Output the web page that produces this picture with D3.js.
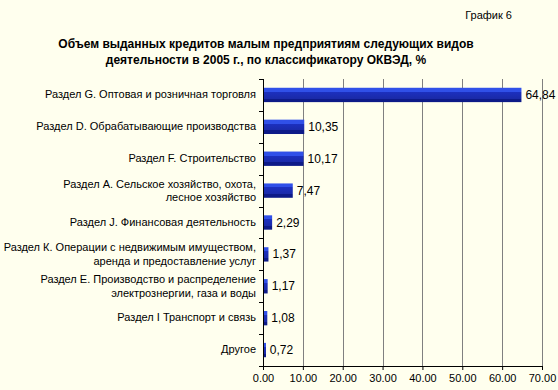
<!DOCTYPE html>
<html>
<head>
<meta charset="utf-8">
<script src="https://cdn.jsdelivr.net/npm/d3@7"></script>
<style>
  body { margin: 0; background: #ffffee; }
  svg { display: block; }
  text { font-family: "Liberation Sans", Arial, sans-serif; fill: #000; }
</style>
</head>
<body>
<svg id="chart" width="558" height="390"></svg>
<script>
var W = 558, H = 390;
var margin = {top: 79, right: 16, bottom: 24, left: 263};

// данные с графика
var categories = [
  ["Раздел G. Оптовая и розничная торговля"],
  ["Раздел D. Обрабатывающие производства"],
  ["Раздел F. Строительство"],
  ["Раздел А. Сельское хозяйство, охота,", "лесное хозяйство"],
  ["Раздел J. Финансовая деятельность"],
  ["Раздел К. Операции с недвижимым имуществом,", "аренда и предоставление услуг"],
  ["Раздел Е. Производство и распределение", "электрознергии, газа и воды"],
  ["Раздел I Транспорт и связь"],
  ["Другое"]
];
var values = [64.84, 10.35, 10.17, 7.47, 2.29, 1.37, 1.17, 1.08, 0.72];
var valueLabels = ["64,84", "10,35", "10,17", "7,47", "2,29", "1,37", "1,17", "1,08", "0,72"];
var xTicks = [0, 10, 20, 30, 40, 50, 60, 70];

var width = W - margin.left - margin.right,
    height = H - margin.top - margin.bottom;

var svg = d3.select('#chart');

svg.append('text')
  .attr('x', 512).attr('y', 19)
  .attr('text-anchor', 'end')
  .style('font-size', '11px')
  .text('График 6');

var title = svg.append('text')
  .attr('text-anchor', 'middle')
  .style('font-size', '12px')
  .style('font-weight', 'bold');
title.append('tspan').attr('x', 266).attr('y', 48)
  .text('Объем выданных кредитов малым предприятиям следующих видов');
title.append('tspan').attr('x', 266).attr('y', 64)
  .text('деятельности в 2005 г., по классификатору ОКВЭД, %');

var g = svg.append('g').attr('transform', 'translate(' + margin.left + ',' + margin.top + ')');

var x = d3.scaleLinear().domain([0, 70]).range([0, 279]);
var y = d3.scaleBand().domain(d3.range(categories.length)).range([0, height]).paddingInner(0.55).paddingOuter(0.275);
var band = d3.scaleBand().domain(d3.range(categories.length)).range([0, height]);

// сетка
g.selectAll('.grid')
  .data(xTicks.slice(1))
  .enter().append('line')
  .attr('x1', d => Math.round(x(d)) + 0.5).attr('x2', d => Math.round(x(d)) + 0.5)
  .attr('y1', 0).attr('y2', height)
  .attr('stroke', '#808080');

// ось X
var xAxis = g.append('g')
  .attr('transform', 'translate(0,' + height + ')')
  .call(d3.axisBottom(x).tickValues(xTicks).tickFormat(d3.format('.2f')).tickSize(4).tickPadding(4));
xAxis.select('.domain').attr('stroke', '#000');
xAxis.selectAll('.tick line').attr('stroke', '#000');
xAxis.selectAll('text').style('font-size', '11px').style('font-family', '"Liberation Sans", Arial, sans-serif');

// ось Y
g.append('line').attr('x1', 0.5).attr('x2', 0.5).attr('y1', 0).attr('y2', height).attr('stroke', '#000');
g.selectAll('.ytick')
  .data(d3.range(categories.length + 1))
  .enter().append('line')
  .attr('x1', -4).attr('x2', 0)
  .attr('y1', d => Math.round(d * band.bandwidth()) + 0.5)
  .attr('y2', d => Math.round(d * band.bandwidth()) + 0.5)
  .attr('stroke', '#000');

// градиент для столбиков
var grad = svg.append('defs').append('linearGradient')
  .attr('id', 'barGrad').attr('x1', 0).attr('x2', 0).attr('y1', 0).attr('y2', 1);
grad.append('stop').attr('offset', '0%').attr('stop-color', '#3050e8');
grad.append('stop').attr('offset', '28%').attr('stop-color', '#3050e8');
grad.append('stop').attr('offset', '28%').attr('stop-color', '#1c30c0');
grad.append('stop').attr('offset', '75%').attr('stop-color', '#1a2aa8');
grad.append('stop').attr('offset', '75%').attr('stop-color', '#0d1a88');
grad.append('stop').attr('offset', '100%').attr('stop-color', '#0d1a88');

g.selectAll('.bar')
  .data(values)
  .enter().append('rect')
  .attr('x', 1)
  .attr('y', (d, i) => y(i))
  .attr('width', d => Math.max(2, x(d) - 1))
  .attr('height', y.bandwidth())
  .attr('fill', 'url(#barGrad)');

g.selectAll('.val')
  .data(values)
  .enter().append('text')
  .attr('x', d => x(d) + 4)
  .attr('y', (d, i) => y(i) + y.bandwidth() / 2 + 4)
  .style('font-size', '12px')
  .text((d, i) => valueLabels[i]);

// подписи категорий
g.selectAll('.cat')
  .data(categories)
  .enter().append('text')
  .attr('text-anchor', 'end')
  .style('font-size', '11px')
  .each(function (lines, i) {
    var cy = band(i) + band.bandwidth() / 2;
    var t = d3.select(this);
    var y0 = lines.length > 1 ? cy - 3 : cy + 3;
    lines.forEach((l, k) => {
      t.append('tspan').attr('x', -7).attr('y', y0 + k * 13.5).text(l);
    });
  });
</script>
</body>
</html>
